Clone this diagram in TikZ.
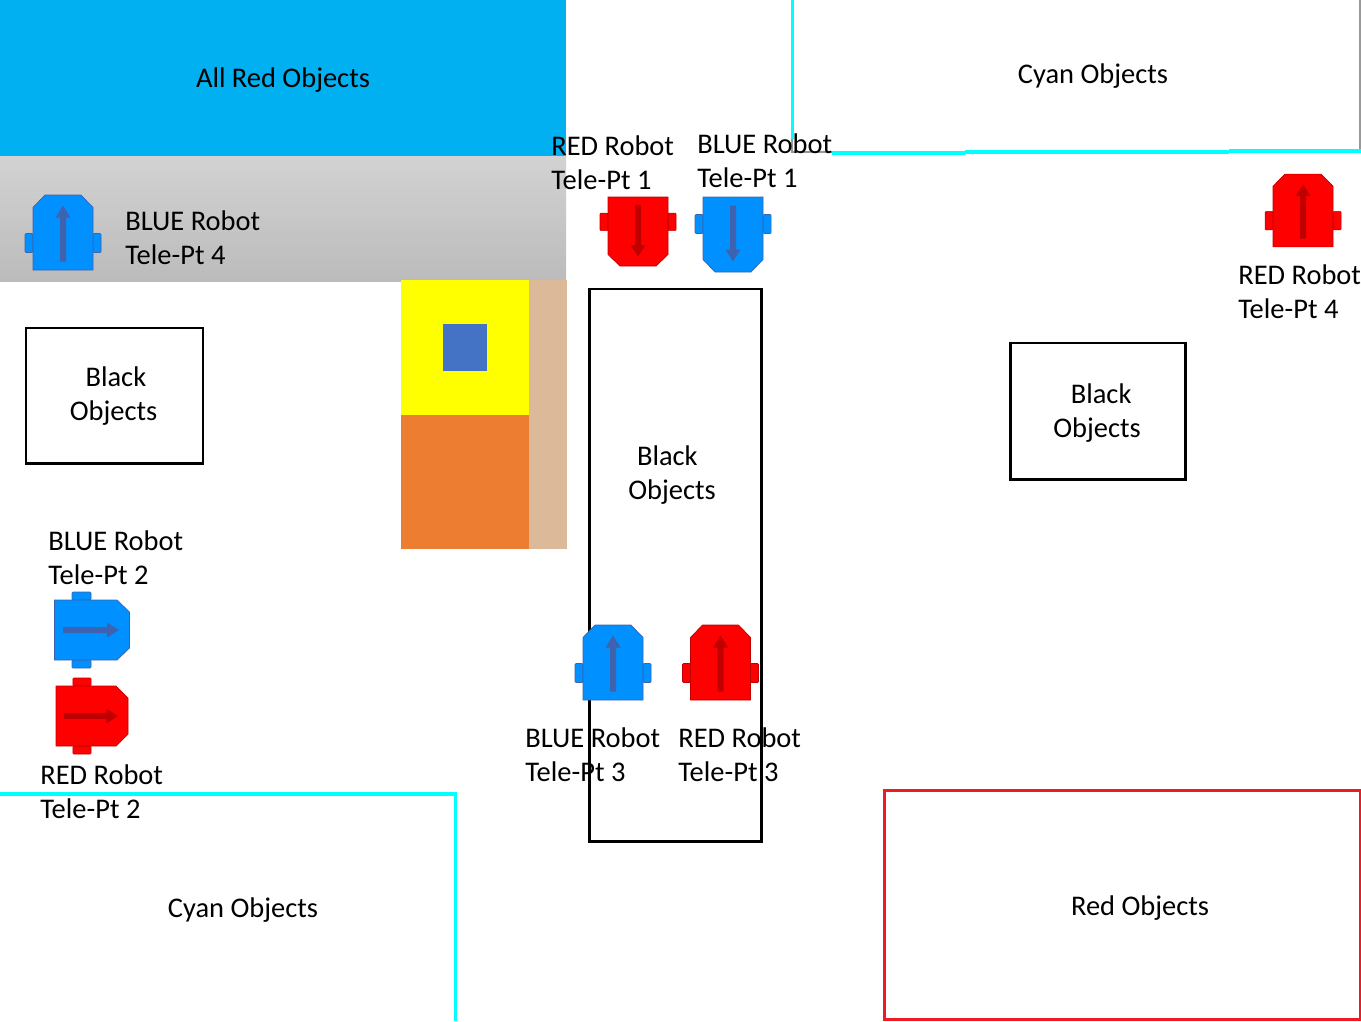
\documentclass[tikz,border=0pt]{standalone}
\usepackage{xcolor}
\usepackage{fontspec}
\setmainfont{Carlito}
\definecolor{ColSky}{RGB}{0,176,240}
\definecolor{ColCyan}{RGB}{0,255,255}
\definecolor{ColRim}{RGB}{237,28,36}
\definecolor{ColYellow}{RGB}{255,255,0}
\definecolor{ColOrange}{RGB}{237,125,49}
\definecolor{ColTan}{RGB}{220,185,153}
\definecolor{ColSquare}{RGB}{68,114,196}
\definecolor{ColBlue}{RGB}{0,144,255}
\definecolor{ColBlueDark}{RGB}{62,98,174}
\definecolor{ColRed}{RGB}{255,0,0}
\definecolor{ColRedDark}{RGB}{192,0,0}
\tikzstyle{Label}=[inner sep=0pt,align=left,font=\fontsize{16.2}{19.3}\selectfont]
\tikzstyle{BlackBox}=[draw=black,line width=1.7pt]
\tikzstyle{CyanLine}=[draw=ColCyan,line width=1.8pt]
\tikzstyle{GrayLine}=[draw=gray!80,line width=.6pt]
\tikzset{
  pics/Robot/.style n args={2}{code={
    \draw[fill=#1,draw=#2,line width=.3pt,rounded corners=.5pt]
      (-38,1) rectangle (-30,20) (30,1) rectangle (38,20);
    \draw[fill=#1,draw=#2,line width=.4pt]
      (-30,37.5)--(-30,-25)--(-18,-37.5)--(18,-37.5)--(30,-25)--(30,37.5)--cycle;
    \fill[#2] (-3,29)--(-3,-15)--(-7.5,-15)--(0,-27)--(7.5,-15)--(3,-15)--(3,29)--cycle;
  }}
}
\begin{document}
\begin{tikzpicture}[x=.02cm,y=-.02cm]
        \useasboundingbox (0,0) rectangle (1361,1021);
        \fill[ColSky] (0,0) rectangle (566,156);
        \shade[top color=gray!35,bottom color=gray!53] (0,156) rectangle (566,281);
        \fill[ColYellow] (401,280) rectangle (529,415);
        \fill[ColOrange] (401,415) rectangle (529,549);
        \fill[ColTan] (529,280) rectangle (567,549);
        \fill[ColSquare] (443,324) rectangle (487,371);
        \draw[BlackBox] (26,328) rectangle (203,463);
        \draw[BlackBox] (1010,343) rectangle (1185,479);
        \draw[BlackBox] (589,289) rectangle (761,841);
        \draw[GrayLine] (792,139)--(792,152)--(832,152);
        \draw[GrayLine] (1360,0)--(1360,151);
        \draw[CyanLine] (792.5,0)--(792.5,139);
        \draw[CyanLine] (832,153)--(965,153);
        \draw[CyanLine] (965,152)--(1229,152);
        \draw[CyanLine] (1229,151)--(1361,151);
        \draw[CyanLine] (0,794)--(455.5,794)--(455.5,1021);
        \draw[draw=ColSquare,line width=.8pt] (883.5,790)--(883.5,1020);
        \draw[draw=ColRim,line width=1.7pt] (884.5,790)rectangle(1360,1019.5);
        \pic at (63,232.5) {Robot={ColBlue}{ColBlueDark}};
        \pic[rotate=180,yscale=.92] at (638,231.5) {Robot={ColRed}{ColRedDark}};
        \pic[rotate=180] at (733,234.5) {Robot={ColBlue}{ColBlueDark}};
        \pic[yscale=.97] at (1303,210.5) {Robot={ColRed}{ColRedDark}};
        \pic[rotate=-90] at (92,630) {Robot={ColBlue}{ColBlueDark}};
        \pic[rotate=-90,yscale=.96] at (92,716) {Robot={ColRed}{ColRedDark}};
        \pic at (613,662.5) {Robot={ColBlue}{ColBlueDark}};
        \pic at (720.5,662.5) {Robot={ColRed}{ColRedDark}};
        \node[Label](allred)at(283,80){All Red Objects};
        \node[Label](cyan1)at(1093,76){Cyan Objects};
        \node[Label](cyan2)at(243,910){Cyan Objects};
        \node[Label](redobj)at(1140,908){Red Objects};
        \node[Label](black1)at(113.5,396.5){\hspace*{9pt}Black\\Objects};
        \node[Label](black2)at(1097,413.5){\hspace*{10pt}Black\\Objects};
        \node[Label](black3)at(672,475){\hspace*{5pt}Black\\Objects};
        \node[Label,anchor=west](red1)at(551,163){RED Robot\\Tele-Pt 1};
        \node[Label,anchor=west](blue1)at(697,161){BLUE Robot\\Tele-Pt 1};
        \node[Label,anchor=west](blue4)at(125,238){BLUE Robot\\Tele-Pt 4};
        \node[Label,anchor=west](red4)at(1238,292){RED Robot\\Tele-Pt 4};
        \node[Label,anchor=west](blue2)at(48,558){BLUE Robot\\Tele-Pt 2};
        \node[Label,anchor=west](red2)at(40,792){RED Robot\\Tele-Pt 2};
        \node[Label,anchor=west](blue3)at(525,755){BLUE Robot\\Tele-Pt 3};
        \node[Label,anchor=west](red3)at(678,755){RED Robot\\Tele-Pt 3};
    \end{tikzpicture}
\end{document}
